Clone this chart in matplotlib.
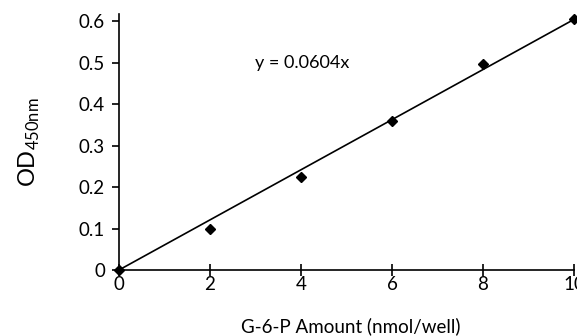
import matplotlib
matplotlib.use("Agg")
import matplotlib.pyplot as plt
import numpy as np

# data
amount = [0, 2, 4, 6, 8, 10]
od450 = [0.0, 0.100, 0.225, 0.360, 0.497, 0.605]
slope = 0.0604
xticks = [0, 2, 4, 6, 8, 10]
yticks = [0, 0.1, 0.2, 0.3, 0.4, 0.5, 0.6]
yticklabels = ["0", "0.1", "0.2", "0.3", "0.4", "0.5", "0.6"]

plt.rcParams["font.family"] = ["Lato", "DejaVu Sans"]

fig = plt.figure(figsize=(5.77, 3.36), dpi=100)
ax = fig.add_axes([0.2062, 0.1964, 0.7886, 0.7619])

# trendline through origin
xl = np.array([0, 10])
ax.plot(xl, slope * xl, color="black", lw=1.2, zorder=2)
ax.plot(amount, od450, linestyle="none", marker="D", color="black", ms=5.5, zorder=3, clip_on=False)

ax.set_xlim(0, 10)
ax.set_ylim(0, 0.617)
ax.set_xticks(xticks)
ax.set_xticklabels([str(v) for v in xticks], fontsize=13.5)
ax.set_yticks(yticks)
ax.set_yticklabels(yticklabels, fontsize=13.5)

ax.spines["top"].set_visible(False)
ax.spines["right"].set_visible(False)
for s in ("left", "bottom"):
    ax.spines[s].set_color("black")
    ax.spines[s].set_linewidth(1.2)
ax.tick_params(axis="x", direction="inout", length=8, width=1.2, pad=0)
ax.tick_params(axis="y", direction="out", length=5, width=1.2, pad=5)

ax.text(3.0, 0.5, "y = 0.0604x", fontsize=13, va="center", ha="left")

ax.set_xlabel("G-6-P Amount (nmol/well)", fontsize=13.5, va="center")
ax.xaxis.set_label_coords(0.51, -0.219)
ax.set_ylabel(r"OD$_{\mathregular{450nm}}$", fontsize=17, va="center")
ax.yaxis.set_label_coords(-0.196, 0.5)

fig.savefig("out.png", dpi=100)
